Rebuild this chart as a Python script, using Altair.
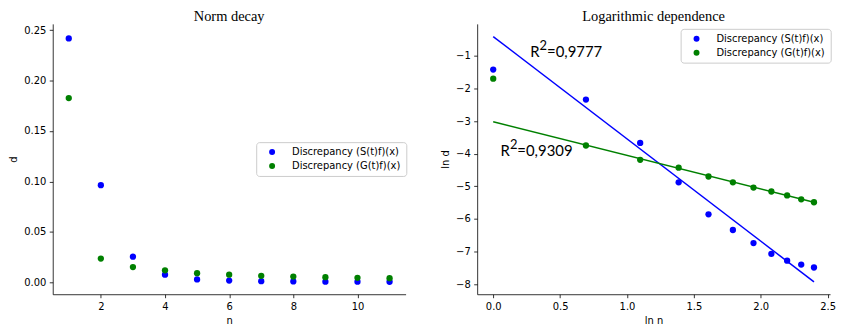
import altair as alt
import numpy as np
import pandas as pd

n_vals = list(range(1, 12))
lnd_S = [-1.42, -2.34, -3.67, -4.88, -5.86, -6.34, -6.74, -7.07, -7.28, -7.40, -7.49]
lnd_G = [-1.70, -3.75, -4.19, -4.43, -4.70, -4.88, -5.04, -5.16, -5.28, -5.40, -5.49]
series_names = ["Discrepancy (S(t)f)(x)", "Discrepancy (G(t)f)(x)"]
series_colors = ["#0000ff", "#008000"]

fit_x = [0.0, 2.398]
fit_S = [-0.41, -7.93]
fit_G = [-3.02, -5.49]

ann_x = [0.276, 0.054]
ann_y = [-1.04, -4.08]
ann_val = ["=0,9777", "=0,9309"]

left_y_ticks = [0, 0.05, 0.10, 0.15, 0.20, 0.25]
left_x_ticks = [2, 4, 6, 8, 10]
right_x_ticks = [0, 0.5, 1.0, 1.5, 2.0, 2.5]
right_y_ticks = [-8, -7, -6, -5, -4, -3, -2, -1]

rows = []
for name, arr in zip(series_names, [lnd_S, lnd_G]):
    for n, v in zip(n_vals, arr):
        rows.append({"series": name, "n": n, "lnn": float(np.log(n)), "lnd": v, "d": float(np.exp(v))})
df = pd.DataFrame(rows)

fit_df_S = pd.DataFrame({"x": fit_x, "y": fit_S})
fit_df_G = pd.DataFrame({"x": fit_x, "y": fit_G})
ann_df = pd.DataFrame({"x": ann_x, "y": ann_y, "t": ann_val})

color_scale = alt.Scale(domain=series_names, range=series_colors)

def legend(lx, ly):
    return alt.Legend(
        orient="none", legendX=lx, legendY=ly, title=None,
        fillColor="white", strokeColor="#cccccc", cornerRadius=3,
        padding=5, rowPadding=4, symbolOffset=6, labelOffset=15,
        symbolSize=36, symbolType="circle", symbolStrokeWidth=0,
        labelFont="DejaVu Sans", labelFontSize=10, labelColor="black",
    )

PW, PH = 355, 272

# Left panel
left = alt.Chart(df).mark_circle(size=40, opacity=1).encode(
    x=alt.X("n:Q", scale=alt.Scale(domain=[0.5, 11.5], nice=False, zero=False),
            axis=alt.Axis(values=left_x_ticks, format="d", title="n")),
    y=alt.Y("d:Q", scale=alt.Scale(domain=[-0.0118, 0.2562], nice=False, zero=False),
            axis=alt.Axis(values=left_y_ticks, format=".2f", title="d", titlePadding=5)),
    color=alt.Color("series:N", scale=color_scale, legend=legend(204.7, 119)),
).properties(width=PW, height=PH, title="Norm decay")

# Right panel
xr = alt.Scale(domain=[-0.12, 2.518], nice=False, zero=False)
yr = alt.Scale(domain=[-8.31, -0.02], nice=False, zero=False)
ax_x = alt.Axis(values=right_x_ticks, format=".1f", title="ln n")
ax_y = alt.Axis(values=right_y_ticks, format="d", title="ln d", titlePadding=5)

def X(f):
    return alt.X(f, type="quantitative", scale=xr, axis=ax_x)

def Y(f):
    return alt.Y(f, type="quantitative", scale=yr, axis=ax_y)

pts = alt.Chart(df).mark_circle(size=40, opacity=1).encode(
    x=X("lnn"), y=Y("lnd"),
    color=alt.Color("series:N", scale=color_scale, legend=legend(204.7, 5)),
)
lineS = alt.Chart(fit_df_S).mark_line(color="#0000ff", strokeWidth=1.5).encode(x=X("x"), y=Y("y"))
lineG = alt.Chart(fit_df_G).mark_line(color="#008000", strokeWidth=1.5).encode(x=X("x"), y=Y("y"))

tfont = dict(font="Lato", fontSize=15, color="black", align="left", baseline="alphabetic")
tR = alt.Chart(ann_df).mark_text(text="R", **tfont).encode(x=X("x"), y=Y("y"))
t2 = alt.Chart(ann_df).mark_text(text="2", dx=9.5, dy=-7.5, font="Lato", fontSize=13, color="black",
                                  align="left", baseline="alphabetic").encode(x=X("x"), y=Y("y"))
tv = alt.Chart(ann_df).mark_text(dx=17, **tfont).encode(x=X("x"), y=Y("y"), text="t:N")

right = alt.layer(pts, lineS, lineG, tR, t2, tv).properties(
    width=PW, height=PH, title="Logarithmic dependence")

chart = alt.hconcat(left, right, spacing=33).resolve_legend(color="independent").properties(
    padding={"left": 0, "top": 0, "right": 0, "bottom": 0}
).configure_view(stroke=None).configure_axis(
    grid=False, domainColor="black", domainWidth=0.8, tickColor="black", tickWidth=0.8,
    tickSize=3.5, labelPadding=3.5, labelFont="DejaVu Sans", labelFontSize=10,
    labelColor="black", labelFlush=False, labelOverlap=False, titleFont="DejaVu Sans", titleFontSize=10,
    titleFontWeight="normal", titleColor="black", titlePadding=4,
).configure_title(
    font="Liberation Serif", fontSize=14.5, fontWeight="normal", color="black", offset=-0.5, anchor="middle"
)

chart.save("out.html", embed_options={"renderer": "svg", "actions": False})
